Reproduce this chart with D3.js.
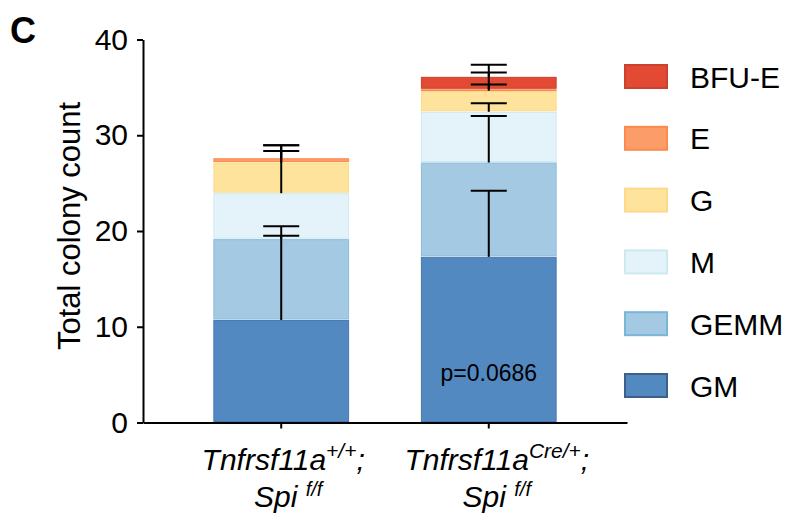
<!DOCTYPE html>
<html>
<head>
<meta charset="utf-8">
<script src="https://cdn.jsdelivr.net/npm/d3@7"></script>
<style>
  body { margin: 0; background: #fff; }
  text { font-family: Arial, "Liberation Sans", Helvetica, sans-serif; }
</style>
</head>
<body>
<div id="chart"></div>
<script>
// data (bottom to top of each stack)
var groups = ["wt", "cre"];
var categories = ["GM", "GEMM", "M", "G", "E", "BFU-E"];
var meansWT = [10.7, 8.45, 4.8, 3.2, 0.45, 0];
var meansCre = [17.3, 9.85, 5.3, 2.2, 0.15, 1.3];
var sdWT = [8.8, 1.35, 4.4, 1.8, 1.35, 0];
var sdCre = [6.9, 4.85, 0.9, 0.65, 1.75, 1.25];
var yTicks = [0, 10, 20, 30, 40];
var pLabel = "p=0.0686";

var fills = ["#5389c1", "#a4c9e2", "#e4f3f9", "#fee39d", "#fc9d69", "#e34a33"];
var edges = ["#4a78ae", "#8bbcdc", "#cde9f2", "#fdd98b", "#fb8b4f", "#c9412f"];
var legendEdges = ["#3e5f8a", "#7ab6d6", "#cde9f0", "#fdd98a", "#fc8a4a", "#c9412f"];

var width = 788, height = 517;
var svg = d3.select("#chart").append("svg").attr("width", width).attr("height", height);

var x_scale = d3.scaleBand().domain(groups).range([143, 627]).paddingInner(0.346).paddingOuter(0.339);
var y_scale = d3.scaleLinear().domain([0, 40]).range([422.5, 39.5]);

// build rows for d3.stack
var rows = groups.map(function (g, gi) {
    var m = gi == 0 ? meansWT : meansCre;
    var row = { group: g };
    categories.forEach(function (c, ci) { row[c] = m[ci]; });
    return row;
});
var stacked = d3.stack().keys(categories)(rows);

// bars
var layers = svg.append("g").selectAll("g")
    .data(stacked)
    .enter()
    .append("g");
layers.selectAll("rect")
    .data(function (d) { return d.map(function (p) { return { p: p, key: d.key, idx: categories.indexOf(d.key) }; }); })
    .enter()
    .filter(function (d) { return d.p[1] - d.p[0] > 0; })
    .append("rect")
    .attr("x", function (d) { return x_scale(d.p.data.group) + 0.5; })
    .attr("width", x_scale.bandwidth() - 1)
    .attr("y", function (d) { return y_scale(d.p[1]) + 0.5; })
    .attr("height", function (d) { return Math.max(0.8, y_scale(d.p[0]) - y_scale(d.p[1]) - 1.5); })
    .style("fill", function (d) { return fills[d.idx]; })
    .style("stroke", function (d) { return edges[d.idx]; })
    .style("stroke-width", 1);

// error bars (mean + SD, upward from each segment top)
var errs = [];
stacked.forEach(function (layer, ci) {
    layer.forEach(function (p, gi) {
        var sd = gi == 0 ? sdWT[ci] : sdCre[ci];
        if (sd > 0) errs.push({ group: p.data.group, top: p[1], hi: p[1] + sd });
    });
});
var eg = svg.append("g").style("stroke", "#000").style("stroke-width", 2);
errs.forEach(function (e) {
    var cx = x_scale(e.group) + x_scale.bandwidth() / 2;
    eg.append("line").attr("x1", cx).attr("x2", cx)
        .attr("y1", y_scale(e.top)).attr("y2", y_scale(e.hi));
    eg.append("line").attr("x1", cx - 18).attr("x2", cx + 18)
        .attr("y1", y_scale(e.hi)).attr("y2", y_scale(e.hi));
});

// p value
svg.append("text")
    .attr("x", x_scale("cre") + x_scale.bandwidth() / 2)
    .attr("y", 381)
    .attr("text-anchor", "middle")
    .style("font-size", "23px")
    .text(pLabel);

// axes
var y_axis = d3.axisLeft(y_scale).tickValues(yTicks).tickSize(6).tickPadding(9).tickSizeOuter(0);
var yg = svg.append("g").attr("transform", "translate(143,0)").call(y_axis);
yg.selectAll("text").style("font-size", "30px").style("font-family", "Arial, 'Liberation Sans', sans-serif").attr("fill", "#000");
yg.selectAll("line, path").style("stroke", "#000").style("stroke-width", 2);

var x_axis = d3.axisBottom(x_scale).tickSize(6).tickSizeOuter(0).tickFormat("");
var xg = svg.append("g").attr("transform", "translate(0,422.5)").call(x_axis);
xg.selectAll("line, path").style("stroke", "#000").style("stroke-width", 2);

// y label
svg.append("text")
    .attr("transform", "translate(80,226) rotate(-90)")
    .attr("text-anchor", "middle")
    .style("font-size", "31px")
    .text("Total colony count");

// panel letter
svg.append("text").attr("x", 10).attr("y", 43)
    .style("font-size", "36px").style("font-weight", "bold").text("C");

// x labels
var xLabels = [
    { g: "wt", sup: "+/+", dx1: 2, dx2: 7 },
    { g: "cre", sup: "Cre/+", dx1: 8, dx2: 8 }
];
xLabels.forEach(function (l) {
    var cx = x_scale(l.g) + x_scale.bandwidth() / 2;
    var t1 = svg.append("text").attr("x", cx + l.dx1).attr("y", 470)
        .attr("text-anchor", "middle").style("font-size", "30px").style("font-style", "italic");
    t1.append("tspan").text("Tnfrsf11a");
    t1.append("tspan").attr("dy", -12).style("font-size", "21px").text(l.sup);
    t1.append("tspan").attr("dy", 12).text(";");
    var t2 = svg.append("text").attr("x", cx + l.dx2).attr("y", 507)
        .attr("text-anchor", "middle").style("font-size", "30px").style("font-style", "italic");
    t2.append("tspan").text("Spi ");
    t2.append("tspan").attr("dy", -11).style("font-size", "20px").text("f/f");
});

// legend (top to bottom)
var legendOrder = categories.slice().reverse();
var legend = svg.append("g").selectAll("g")
    .data(legendOrder)
    .enter()
    .append("g")
    .attr("transform", function (d, i) { return "translate(624," + (76.5 + i * 61.8) + ")"; });
legend.append("rect")
    .attr("x", 1).attr("y", -11.5).attr("width", 42).attr("height", 23)
    .style("fill", function (d) { return fills[categories.indexOf(d)]; })
    .style("stroke", function (d) { return legendEdges[categories.indexOf(d)]; })
    .style("stroke-width", 2);
legend.append("text")
    .attr("x", 66).attr("y", 11)
    .style("font-size", "30px")
    .text(function (d) { return d; });
</script>
</body>
</html>
